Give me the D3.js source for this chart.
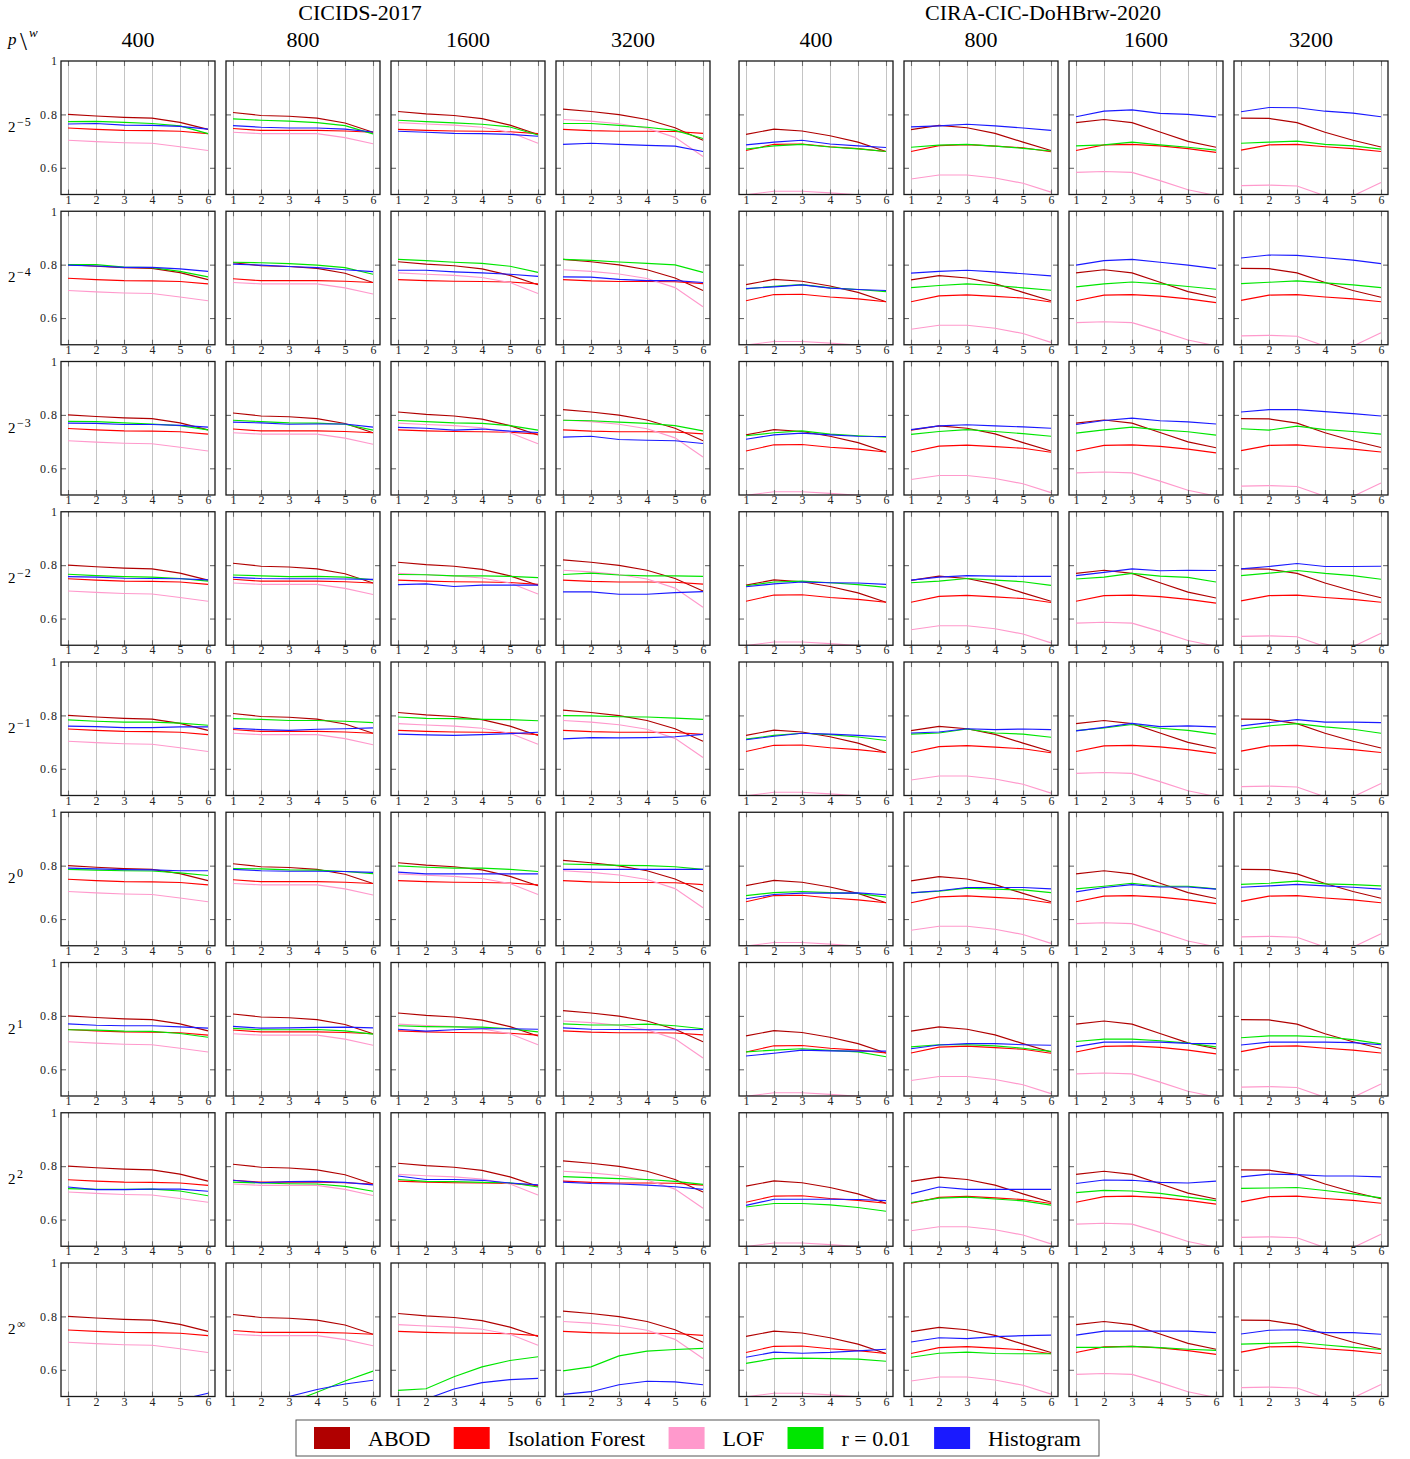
<!DOCTYPE html>
<html>
<head>
<meta charset="utf-8">
<script src="https://cdn.jsdelivr.net/npm/d3@7"></script>
<style>
  body { margin: 0; background: #fff; }
  svg { display: block; font-family: "Liberation Serif", "DejaVu Serif", serif; }
  .grid line { stroke: #c4c4c4; stroke-width: 1; }
  .ticks line { stroke: #6a6a6a; stroke-width: 1.1; }
  .lbl text { font-size: 12px; fill: #222; font-family: "Liberation Serif", serif; letter-spacing: 1px; }
</style>
</head>
<body>
<svg id="chart" width="1410" height="1459"></svg>
<script>
/* axes */
const xSteps = [1, 2, 3, 4, 5, 6];
const yTicks = [0.6, 0.8, 1];
const datasets = ["CICIDS-2017", "CIRA-CIC-DoHBrw-2020"];
const windowSizes = ["400", "800", "1600", "3200"];
const pExponents = ["\u22125", "\u22124", "\u22123", "\u22122", "\u22121", "0", "1", "2", "\u221e"];
const seriesNames = ["ABOD", "Isolation Forest", "LOF", "r = 0.01", "Histogram"];
const seriesColors = ["#b00000", "#ff0000", "#ff99cc", "#00e600", "#1a1aff"];

/* baselines, one line per column (4 CICIDS windows, then 4 CIRA windows) */
const abod = [
  [0.800, 0.794, 0.789, 0.786, 0.770, 0.744],
  [0.807, 0.796, 0.793, 0.786, 0.768, 0.733],
  [0.811, 0.802, 0.796, 0.784, 0.760, 0.725],
  [0.820, 0.811, 0.799, 0.781, 0.750, 0.703],
  [0.725, 0.745, 0.738, 0.720, 0.696, 0.661],
  [0.743, 0.759, 0.750, 0.729, 0.696, 0.665],
  [0.769, 0.781, 0.769, 0.734, 0.699, 0.677],
  [0.786, 0.785, 0.769, 0.733, 0.703, 0.678]
];
const iforest = [
  [0.749, 0.744, 0.740, 0.739, 0.737, 0.728],
  [0.747, 0.740, 0.740, 0.740, 0.738, 0.733],
  [0.744, 0.740, 0.738, 0.737, 0.735, 0.728],
  [0.744, 0.739, 0.737, 0.737, 0.736, 0.729],
  [0.665, 0.688, 0.689, 0.679, 0.672, 0.661],
  [0.661, 0.683, 0.687, 0.681, 0.675, 0.660],
  [0.665, 0.686, 0.688, 0.682, 0.672, 0.658],
  [0.666, 0.686, 0.688, 0.679, 0.672, 0.661]
];
const lof = [
  [0.703, 0.698, 0.694, 0.692, 0.679, 0.665],
  [0.733, 0.728, 0.728, 0.728, 0.713, 0.690],
  [0.769, 0.764, 0.760, 0.752, 0.733, 0.692],
  [0.781, 0.775, 0.765, 0.748, 0.714, 0.642],
  [0.499, 0.512, 0.512, 0.506, 0.499, 0.490],
  [0.558, 0.573, 0.573, 0.562, 0.542, 0.509],
  [0.583, 0.586, 0.583, 0.552, 0.518, 0.496],
  [0.533, 0.535, 0.532, 0.495, 0.495, 0.545]
];

/* r = 0.01, one block per p row */
const rScore = [
  [[0.773, 0.774, 0.770, 0.766, 0.757, 0.728], [0.783, 0.778, 0.775, 0.769, 0.758, 0.727],
   [0.778, 0.773, 0.768, 0.763, 0.753, 0.723], [0.766, 0.766, 0.759, 0.752, 0.740, 0.710],
   [0.670, 0.682, 0.688, 0.678, 0.671, 0.661], [0.677, 0.685, 0.688, 0.681, 0.673, 0.663],
   [0.682, 0.686, 0.696, 0.686, 0.677, 0.666], [0.692, 0.696, 0.700, 0.688, 0.682, 0.670]],
  [[0.800, 0.800, 0.791, 0.789, 0.775, 0.754], [0.809, 0.807, 0.804, 0.798, 0.789, 0.764],
   [0.820, 0.815, 0.809, 0.805, 0.794, 0.771], [0.820, 0.816, 0.810, 0.805, 0.799, 0.771],
   [0.709, 0.719, 0.725, 0.713, 0.707, 0.699], [0.714, 0.722, 0.728, 0.722, 0.713, 0.704],
   [0.717, 0.728, 0.735, 0.728, 0.718, 0.708], [0.729, 0.734, 0.739, 0.732, 0.724, 0.714]],
  [[0.776, 0.775, 0.770, 0.766, 0.760, 0.744], [0.780, 0.775, 0.770, 0.769, 0.765, 0.743],
   [0.779, 0.775, 0.770, 0.768, 0.760, 0.743], [0.780, 0.778, 0.773, 0.768, 0.760, 0.740],
   [0.722, 0.733, 0.740, 0.728, 0.722, 0.717], [0.727, 0.738, 0.745, 0.738, 0.730, 0.720],
   [0.732, 0.744, 0.754, 0.744, 0.737, 0.724], [0.748, 0.743, 0.758, 0.745, 0.738, 0.728]],
  [[0.766, 0.761, 0.757, 0.755, 0.750, 0.740], [0.763, 0.760, 0.757, 0.758, 0.755, 0.745],
   [0.765, 0.764, 0.760, 0.760, 0.758, 0.753], [0.765, 0.770, 0.763, 0.760, 0.760, 0.758],
   [0.723, 0.737, 0.740, 0.734, 0.727, 0.717], [0.734, 0.740, 0.750, 0.744, 0.738, 0.724],
   [0.748, 0.755, 0.769, 0.759, 0.754, 0.737], [0.761, 0.770, 0.780, 0.769, 0.761, 0.747]],
  [[0.783, 0.778, 0.775, 0.775, 0.771, 0.763], [0.788, 0.785, 0.781, 0.781, 0.778, 0.773],
   [0.794, 0.789, 0.788, 0.785, 0.784, 0.780], [0.799, 0.798, 0.795, 0.794, 0.790, 0.785],
   [0.711, 0.725, 0.733, 0.728, 0.719, 0.706], [0.730, 0.734, 0.749, 0.734, 0.730, 0.718],
   [0.743, 0.753, 0.766, 0.752, 0.744, 0.730], [0.748, 0.761, 0.769, 0.757, 0.748, 0.733]],
  [[0.786, 0.783, 0.781, 0.780, 0.773, 0.763], [0.789, 0.788, 0.784, 0.783, 0.778, 0.770],
   [0.799, 0.794, 0.791, 0.791, 0.786, 0.778], [0.806, 0.804, 0.801, 0.800, 0.796, 0.786],
   [0.688, 0.699, 0.703, 0.699, 0.696, 0.682], [0.698, 0.704, 0.716, 0.712, 0.709, 0.699],
   [0.713, 0.723, 0.734, 0.723, 0.723, 0.713], [0.730, 0.734, 0.742, 0.732, 0.729, 0.724]],
  [[0.748, 0.747, 0.743, 0.742, 0.734, 0.720], [0.753, 0.748, 0.748, 0.749, 0.744, 0.732],
   [0.763, 0.760, 0.759, 0.758, 0.752, 0.740], [0.770, 0.766, 0.766, 0.769, 0.763, 0.752],
   [0.665, 0.672, 0.677, 0.671, 0.665, 0.647], [0.684, 0.692, 0.692, 0.688, 0.679, 0.667],
   [0.704, 0.713, 0.713, 0.707, 0.698, 0.684], [0.718, 0.725, 0.725, 0.721, 0.711, 0.695]],
  [[0.716, 0.713, 0.713, 0.714, 0.707, 0.689], [0.740, 0.737, 0.734, 0.733, 0.724, 0.706],
   [0.750, 0.743, 0.742, 0.739, 0.738, 0.722], [0.761, 0.757, 0.753, 0.750, 0.743, 0.732],
   [0.647, 0.660, 0.660, 0.655, 0.645, 0.631], [0.664, 0.680, 0.684, 0.677, 0.670, 0.654],
   [0.701, 0.709, 0.707, 0.698, 0.684, 0.671], [0.717, 0.718, 0.720, 0.709, 0.696, 0.681]],
  [[0.380, 0.390, 0.400, 0.410, 0.430, 0.450], [0.430, 0.450, 0.476, 0.516, 0.558, 0.595],
   [0.523, 0.529, 0.574, 0.611, 0.635, 0.649], [0.596, 0.611, 0.652, 0.670, 0.676, 0.680],
   [0.624, 0.642, 0.644, 0.642, 0.640, 0.632], [0.647, 0.662, 0.666, 0.661, 0.660, 0.660],
   [0.684, 0.684, 0.688, 0.683, 0.677, 0.673], [0.696, 0.699, 0.703, 0.693, 0.684, 0.676]]
];

/* Histogram, one block per p row */
const histogram = [
  [[0.764, 0.766, 0.760, 0.759, 0.755, 0.745], [0.758, 0.752, 0.749, 0.749, 0.745, 0.734],
   [0.737, 0.733, 0.729, 0.728, 0.725, 0.718], [0.688, 0.692, 0.688, 0.684, 0.681, 0.661],
   [0.686, 0.696, 0.703, 0.689, 0.682, 0.676], [0.753, 0.757, 0.763, 0.757, 0.749, 0.740],
   [0.791, 0.812, 0.817, 0.804, 0.800, 0.791], [0.810, 0.826, 0.825, 0.812, 0.805, 0.791]],
  [[0.798, 0.795, 0.790, 0.790, 0.784, 0.775], [0.802, 0.798, 0.793, 0.789, 0.781, 0.774],
   [0.779, 0.779, 0.773, 0.769, 0.764, 0.756], [0.754, 0.753, 0.745, 0.740, 0.740, 0.733],
   [0.710, 0.717, 0.724, 0.712, 0.707, 0.703], [0.768, 0.775, 0.779, 0.773, 0.766, 0.758],
   [0.798, 0.815, 0.820, 0.809, 0.798, 0.785], [0.825, 0.836, 0.835, 0.826, 0.817, 0.804]],
  [[0.769, 0.768, 0.764, 0.764, 0.761, 0.754], [0.773, 0.770, 0.765, 0.766, 0.766, 0.754],
   [0.753, 0.750, 0.743, 0.747, 0.739, 0.734], [0.717, 0.720, 0.708, 0.705, 0.703, 0.693],
   [0.709, 0.725, 0.732, 0.725, 0.720, 0.719], [0.745, 0.759, 0.763, 0.759, 0.755, 0.750],
   [0.764, 0.779, 0.788, 0.778, 0.774, 0.766], [0.811, 0.820, 0.820, 0.812, 0.805, 0.796]],
  [[0.757, 0.755, 0.751, 0.750, 0.749, 0.745], [0.754, 0.750, 0.749, 0.749, 0.748, 0.747],
   [0.727, 0.730, 0.720, 0.725, 0.725, 0.725], [0.700, 0.700, 0.691, 0.691, 0.697, 0.701],
   [0.719, 0.730, 0.737, 0.734, 0.733, 0.728], [0.744, 0.755, 0.761, 0.759, 0.758, 0.758],
   [0.761, 0.773, 0.786, 0.779, 0.781, 0.780], [0.786, 0.795, 0.806, 0.795, 0.795, 0.796]],
  [[0.760, 0.758, 0.754, 0.754, 0.757, 0.757], [0.752, 0.747, 0.744, 0.748, 0.750, 0.753],
   [0.730, 0.727, 0.725, 0.728, 0.732, 0.737], [0.712, 0.717, 0.716, 0.717, 0.720, 0.729],
   [0.709, 0.722, 0.733, 0.730, 0.725, 0.719], [0.734, 0.738, 0.750, 0.747, 0.749, 0.747],
   [0.742, 0.755, 0.770, 0.758, 0.761, 0.757], [0.761, 0.773, 0.784, 0.775, 0.775, 0.773]],
  [[0.791, 0.788, 0.785, 0.784, 0.781, 0.781], [0.786, 0.781, 0.779, 0.779, 0.778, 0.775],
   [0.776, 0.769, 0.769, 0.769, 0.769, 0.769], [0.786, 0.786, 0.786, 0.786, 0.786, 0.786],
   [0.676, 0.692, 0.697, 0.697, 0.698, 0.691], [0.698, 0.706, 0.718, 0.718, 0.718, 0.713],
   [0.702, 0.718, 0.729, 0.720, 0.720, 0.712], [0.719, 0.724, 0.730, 0.724, 0.719, 0.712]],
  [[0.770, 0.765, 0.763, 0.763, 0.759, 0.754], [0.761, 0.754, 0.755, 0.757, 0.758, 0.755],
   [0.750, 0.743, 0.748, 0.752, 0.752, 0.750], [0.755, 0.750, 0.749, 0.748, 0.748, 0.749],
   [0.650, 0.660, 0.672, 0.669, 0.668, 0.668], [0.677, 0.691, 0.696, 0.696, 0.692, 0.690],
   [0.685, 0.702, 0.702, 0.702, 0.697, 0.696], [0.691, 0.702, 0.702, 0.702, 0.700, 0.692]],
  [[0.722, 0.712, 0.712, 0.714, 0.714, 0.706], [0.747, 0.738, 0.742, 0.743, 0.739, 0.730],
   [0.763, 0.750, 0.750, 0.747, 0.737, 0.730], [0.740, 0.735, 0.733, 0.729, 0.723, 0.713],
   [0.653, 0.676, 0.676, 0.676, 0.675, 0.671], [0.696, 0.722, 0.713, 0.713, 0.713, 0.713],
   [0.735, 0.748, 0.747, 0.739, 0.737, 0.744], [0.760, 0.770, 0.768, 0.763, 0.763, 0.760]],
  [[0.440, 0.450, 0.460, 0.470, 0.488, 0.512], [0.450, 0.475, 0.500, 0.526, 0.547, 0.561],
   [0.470, 0.490, 0.528, 0.552, 0.563, 0.568], [0.508, 0.518, 0.544, 0.557, 0.555, 0.544],
   [0.647, 0.666, 0.662, 0.665, 0.671, 0.677], [0.704, 0.720, 0.717, 0.724, 0.728, 0.730],
   [0.730, 0.745, 0.745, 0.745, 0.745, 0.739], [0.734, 0.748, 0.750, 0.739, 0.739, 0.733]]
];

/* layout */
const left0 = 61, top0 = 61;
const panelW = 154, panelH = 133.5;
const colStep = 165, groupStep = 678, rowStep = 150.25;

const svg = d3.select("#chart");

const x = d3.scaleLinear().domain([0.75, 6.25]).range([0, panelW]);
const y = d3.scaleLinear().domain([0.5, 1]).range([panelH, 0]);

const line = d3.line()
  .x((d, i) => x(xSteps[i]))
  .y(d => y(d));

svg.append("defs").append("clipPath")
  .attr("id", "panel-clip")
  .append("rect")
  .attr("width", panelW)
  .attr("height", panelH);

const panelLeft = c => left0 + Math.floor(c / 4) * groupStep + (c % 4) * colStep;

/* dataset titles */
const titleX = [360, 1043];
datasets.forEach((name, g) => {
  svg.append("text")
    .attr("x", titleX[g])
    .attr("y", 20)
    .attr("text-anchor", "middle")
    .style("font-size", "22px")
    .text(name);
});

/* window size headers */
for (let c = 0; c < 8; c++) {
  svg.append("text")
    .attr("x", panelLeft(c) + panelW / 2)
    .attr("y", 47)
    .attr("text-anchor", "middle")
    .style("font-size", "22px")
    .text(windowSizes[c % 4]);
}

/* corner label p \ w */
svg.append("text").attr("x", 8).attr("y", 45)
  .style("font-size", "17px").style("font-style", "italic").text("p");
svg.append("text").attr("x", 20).attr("y", 50)
  .style("font-size", "25px").text("\\");
svg.append("text").attr("x", 29).attr("y", 37)
  .style("font-size", "13px").style("font-style", "italic").text("w");

for (let r = 0; r < pExponents.length; r++) {
  const top = top0 + r * rowStep;

  /* row label 2^p */
  const rl = svg.append("text")
    .attr("x", 8)
    .attr("y", top + 71)
    .style("font-size", "15px");
  rl.append("tspan").text("2");
  rl.append("tspan")
    .attr("dx", 1.5)
    .attr("dy", -6)
    .style("font-size", "12px")
    .style("letter-spacing", "1px")
    .text(pExponents[r]);

  for (let c = 0; c < 8; c++) {
    const g = svg.append("g")
      .attr("transform", `translate(${panelLeft(c)},${top})`);

    /* vertical grid */
    g.append("g")
      .attr("class", "grid")
      .attr("transform", `translate(0,${panelH})`)
      .call(d3.axisBottom(x).tickValues(xSteps).tickSize(-panelH).tickFormat(""))
      .call(s => s.select(".domain").remove());

    /* series */
    const values = [abod[c], iforest[c], lof[c], rScore[r][c], histogram[r][c]];
    g.append("g")
      .attr("clip-path", "url(#panel-clip)")
      .selectAll("path")
      .data(values)
      .join("path")
      .attr("fill", "none")
      .attr("stroke", (d, i) => seriesColors[i])
      .attr("stroke-width", 1.15)
      .attr("d", line);

    /* inner tick marks on all four sides */
    g.append("g").attr("class", "ticks")
      .attr("transform", `translate(0,${panelH})`)
      .call(d3.axisBottom(x).tickValues(xSteps).tickSize(-5).tickFormat(""))
      .call(s => s.select(".domain").remove());
    g.append("g").attr("class", "ticks")
      .call(d3.axisTop(x).tickValues(xSteps).tickSize(-5).tickFormat(""))
      .call(s => s.select(".domain").remove());
    g.append("g").attr("class", "ticks")
      .call(d3.axisLeft(y).tickValues([0.6, 0.8]).tickSize(-5).tickFormat(""))
      .call(s => s.select(".domain").remove());
    g.append("g").attr("class", "ticks")
      .attr("transform", `translate(${panelW},0)`)
      .call(d3.axisRight(y).tickValues([0.6, 0.8]).tickSize(-5).tickFormat(""))
      .call(s => s.select(".domain").remove());

    /* frame */
    g.append("rect")
      .attr("width", panelW)
      .attr("height", panelH)
      .attr("fill", "none")
      .attr("stroke", "#1a1a1a")
      .attr("stroke-width", 1.3);

    /* x tick labels */
    g.append("g").attr("class", "lbl")
      .attr("transform", `translate(0,${panelH})`)
      .call(d3.axisBottom(x).tickValues(xSteps).tickSize(0).tickPadding(0.5)
        .tickFormat(d3.format("d")))
      .call(s => s.select(".domain").remove())
      .call(s => s.selectAll("text").attr("dx", "0.5px"));

    /* y tick labels, first column only */
    if (c === 0) {
      g.append("g").attr("class", "lbl")
        .call(d3.axisLeft(y).tickValues(yTicks).tickSize(0).tickPadding(3)
          .tickFormat(d => d === 1 ? "1" : d3.format(".1f")(d)))
        .call(s => s.select(".domain").remove());
    }
  }
}

/* legend */
const legX = 296, legY = 1420, legW = 803, legH = 36;
const legend = svg.append("g");
legend.append("rect")
  .attr("x", legX).attr("y", legY)
  .attr("width", legW).attr("height", legH)
  .attr("fill", "#fff")
  .attr("stroke", "#555")
  .attr("stroke-width", 1);

const swW = 36, swH = 22, pad = 18, swGap = 18;
const labels = legend.selectAll("text.leg")
  .data(seriesNames)
  .join("text")
  .attr("class", "leg")
  .attr("y", legY + 26)
  .style("font-size", "22px")
  .text(d => d);
const widths = [];
labels.each(function () { widths.push(this.getComputedTextLength()); });
const used = d3.sum(widths) + seriesNames.length * (swW + swGap);
const between = (legW - 2 * pad - used) / (seriesNames.length - 1);
let cx = legX + pad;
seriesNames.forEach((name, i) => {
  legend.append("rect")
    .attr("x", cx).attr("y", legY + (legH - swH) / 2)
    .attr("width", swW).attr("height", swH)
    .attr("fill", seriesColors[i]);
  labels.filter((d, j) => j === i).attr("x", cx + swW + swGap);
  cx += swW + swGap + widths[i] + between;
});
</script>
</body>
</html>
